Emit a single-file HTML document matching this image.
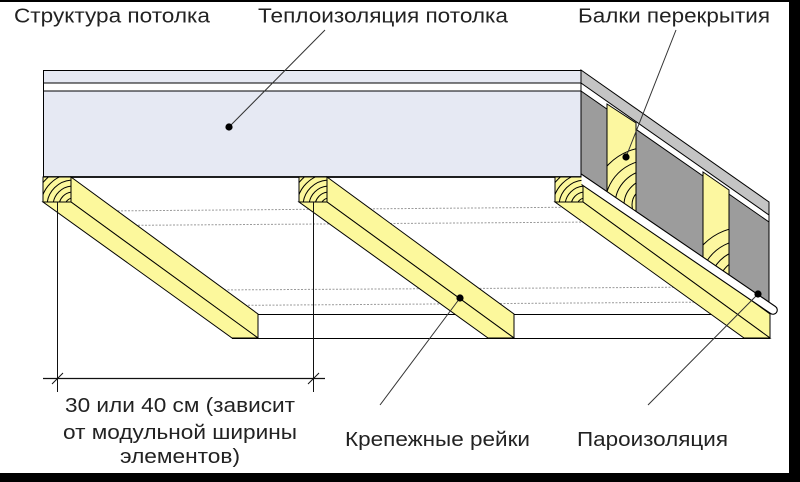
<!DOCTYPE html>
<html><head><meta charset="utf-8">
<style>html,body{margin:0;padding:0;background:#fff;}svg{display:block}</style>
</head>
<body>
<svg width="800" height="482" viewBox="0 0 800 482" xmlns="http://www.w3.org/2000/svg">
<defs>
  <clipPath id="ce1"><rect x="43" y="177" width="28" height="25"/></clipPath>
  <clipPath id="ce2"><rect x="299" y="177" width="28" height="25"/></clipPath>
  <clipPath id="ce3"><rect x="555" y="177" width="28" height="25"/></clipPath>
  <clipPath id="cb1"><polygon points="607,104 636,123 636,212 607,192"/></clipPath>
  <clipPath id="cb2"><polygon points="703,172 729,190 729,275 703,258"/></clipPath>
  <clipPath id="cstrip"><rect x="581.5" y="0" width="220" height="482"/></clipPath>
</defs>
<rect width="800" height="482" fill="#fff"/>

<!-- dotted lines -->
<g stroke="#9a9a9a" stroke-width="1" stroke-dasharray="2,1.5" fill="none">
  <line x1="100" y1="211" x2="600" y2="207"/>
  <line x1="110" y1="225.5" x2="600" y2="222"/>
  <line x1="210" y1="290" x2="720" y2="287"/>
  <line x1="220" y1="305.5" x2="720" y2="302"/>
</g>

<!-- floor lines -->
<g stroke="#000" stroke-width="1">
  <line x1="258" y1="314.5" x2="770" y2="314.5"/>
  <line x1="232" y1="338.5" x2="770" y2="338.5"/>
</g>

<!-- side face -->
<polygon points="581,70 769,202 769,215 581,83" fill="#c4c4c4" stroke="#000" stroke-width="1"/>
<polygon points="581,91 769,222 769,304 581,175" fill="#9c9c9c" stroke="#000" stroke-width="1"/>
<line x1="769" y1="202" x2="769" y2="304" stroke="#000"/>

<!-- beams on side face -->
<polygon points="607,104 636,123 636,212 607,192" fill="#fcf7a0"/>
<g clip-path="url(#cb1)" stroke="#000" stroke-width="1" fill="none">
  <circle cx="650" cy="205" r="18"/>
  <circle cx="650" cy="205" r="26"/>
  <circle cx="650" cy="205" r="35"/>
  <circle cx="650" cy="205" r="45"/>
  <circle cx="650" cy="205" r="58"/>
</g>
<polygon points="607,104 636,123 636,212 607,192" fill="none" stroke="#000" stroke-width="1"/>

<polygon points="703,172 729,190 729,275 703,258" fill="#fcf7a0"/>
<g clip-path="url(#cb2)" stroke="#000" stroke-width="1" fill="none">
  <circle cx="745" cy="285" r="18"/>
  <circle cx="745" cy="285" r="26"/>
  <circle cx="745" cy="285" r="35"/>
  <circle cx="745" cy="285" r="45"/>
  <circle cx="745" cy="285" r="58"/>
</g>
<polygon points="703,172 729,190 729,275 703,258" fill="none" stroke="#000" stroke-width="1"/>

<!-- top board and insulation -->
<rect x="43.5" y="70.5" width="537.5" height="12.5" fill="#e6e9f3" stroke="#000" stroke-width="1"/>
<rect x="43.5" y="83" width="537.5" height="8" fill="#fff" stroke="#000" stroke-width="1"/>
<rect x="43.5" y="91" width="537.5" height="86" fill="#e6e9f3" stroke="#000" stroke-width="1"/>
<line x1="43" y1="177" x2="581" y2="177" stroke="#000" stroke-width="1.8"/>

<!-- rails -->
<g stroke="#000" stroke-width="1" stroke-linejoin="miter">
  <!-- rail 1 -->
  <polygon points="71,177 258,314 258,338 71,202" fill="#fcf89c"/>
  <polygon points="43,202 71,202 258,338 232,338" fill="#fcf89c"/>
  <rect x="43" y="177" width="28" height="25" fill="#fcf89c" stroke="none"/>
  <g clip-path="url(#ce1)" fill="none">
    <circle cx="73" cy="206" r="8"/><circle cx="73" cy="206" r="14"/><circle cx="73" cy="206" r="20"/><circle cx="73" cy="206" r="26"/><circle cx="73" cy="206" r="32"/><circle cx="73" cy="206" r="38"/>
  </g>
  <rect x="43" y="177" width="28" height="25" fill="none"/>

  <!-- rail 2 -->
  <polygon points="327,177 514,314 514,338 327,202" fill="#fcf89c"/>
  <polygon points="299,202 327,202 514,338 488,338" fill="#fcf89c"/>
  <rect x="299" y="177" width="28" height="25" fill="#fcf89c" stroke="none"/>
  <g clip-path="url(#ce2)" fill="none">
    <circle cx="329" cy="206" r="8"/><circle cx="329" cy="206" r="14"/><circle cx="329" cy="206" r="20"/><circle cx="329" cy="206" r="26"/><circle cx="329" cy="206" r="32"/><circle cx="329" cy="206" r="38"/>
  </g>
  <rect x="299" y="177" width="28" height="25" fill="none"/>

  <!-- rail 3 -->
  <polygon points="583,177 770,314 770,338 583,202" fill="#fcf89c"/>
  <polygon points="555,202 583,202 770,338 744,338" fill="#fcf89c"/>
  <rect x="555" y="177" width="28" height="25" fill="#fcf89c" stroke="none"/>
  <g clip-path="url(#ce3)" fill="none">
    <circle cx="585" cy="206" r="8"/><circle cx="585" cy="206" r="14"/><circle cx="585" cy="206" r="20"/><circle cx="585" cy="206" r="26"/><circle cx="585" cy="206" r="32"/><circle cx="585" cy="206" r="38"/>
  </g>
  <rect x="555" y="177" width="28" height="25" fill="none"/>
</g>

<!-- vapor barrier strip -->
<g clip-path="url(#cstrip)">
  <line x1="570" y1="171.5" x2="773" y2="310" stroke="#000" stroke-width="9.6" stroke-linecap="round"/>
  <line x1="570" y1="171.5" x2="773" y2="310" stroke="#fff" stroke-width="7.4" stroke-linecap="round"/>
</g>

<!-- dimension lines -->
<g stroke="#111" stroke-width="1" fill="none">
  <line x1="57.5" y1="202" x2="57.5" y2="392"/>
  <line x1="313.5" y1="202" x2="313.5" y2="392"/>
  <line x1="43" y1="378.5" x2="325" y2="378.5" stroke-width="1.3"/>
  <line x1="52" y1="384" x2="63" y2="373"/>
  <line x1="308" y1="384" x2="319" y2="373"/>
</g>

<!-- leader lines -->
<g stroke="#333" stroke-width="1" fill="none">
  <line x1="325" y1="30" x2="229" y2="127"/>
  <line x1="676" y1="30" x2="626" y2="157"/>
  <line x1="460" y1="298" x2="380" y2="405"/>
  <line x1="758" y1="294" x2="648" y2="405"/>
</g>
<g fill="#000">
  <circle cx="229" cy="127" r="3.6"/>
  <circle cx="626" cy="157" r="3.6"/>
  <circle cx="460" cy="298" r="3.6"/>
  <circle cx="758" cy="294" r="3.6"/>
</g>

<!-- labels -->
<g font-family="'Liberation Sans', 'DejaVu Sans', sans-serif" font-size="20.5" fill="#222">
  <text x="14" y="22.5" textLength="196" lengthAdjust="spacingAndGlyphs">Структура потолка</text>
  <text x="258" y="22.5" textLength="250" lengthAdjust="spacingAndGlyphs">Теплоизоляция потолка</text>
  <text x="578" y="22.5" textLength="192" lengthAdjust="spacingAndGlyphs">Балки перекрытия</text>
  <text x="65" y="412" textLength="230" lengthAdjust="spacingAndGlyphs">30 или 40 см (зависит</text>
  <text x="63" y="439" textLength="234" lengthAdjust="spacingAndGlyphs">от модульной ширины</text>
  <text x="120" y="463" textLength="120" lengthAdjust="spacingAndGlyphs">элементов)</text>
  <text x="345" y="446" textLength="185" lengthAdjust="spacingAndGlyphs">Крепежные рейки</text>
  <text x="577" y="446" textLength="151" lengthAdjust="spacingAndGlyphs">Пароизоляция</text>
</g>

<!-- black frame -->
<rect x="0" y="0" width="800" height="2" fill="#000"/>
<rect x="789" y="0" width="11" height="482" fill="#000"/>
<rect x="0" y="473" width="800" height="9" fill="#000"/>
</svg>
</body></html>
